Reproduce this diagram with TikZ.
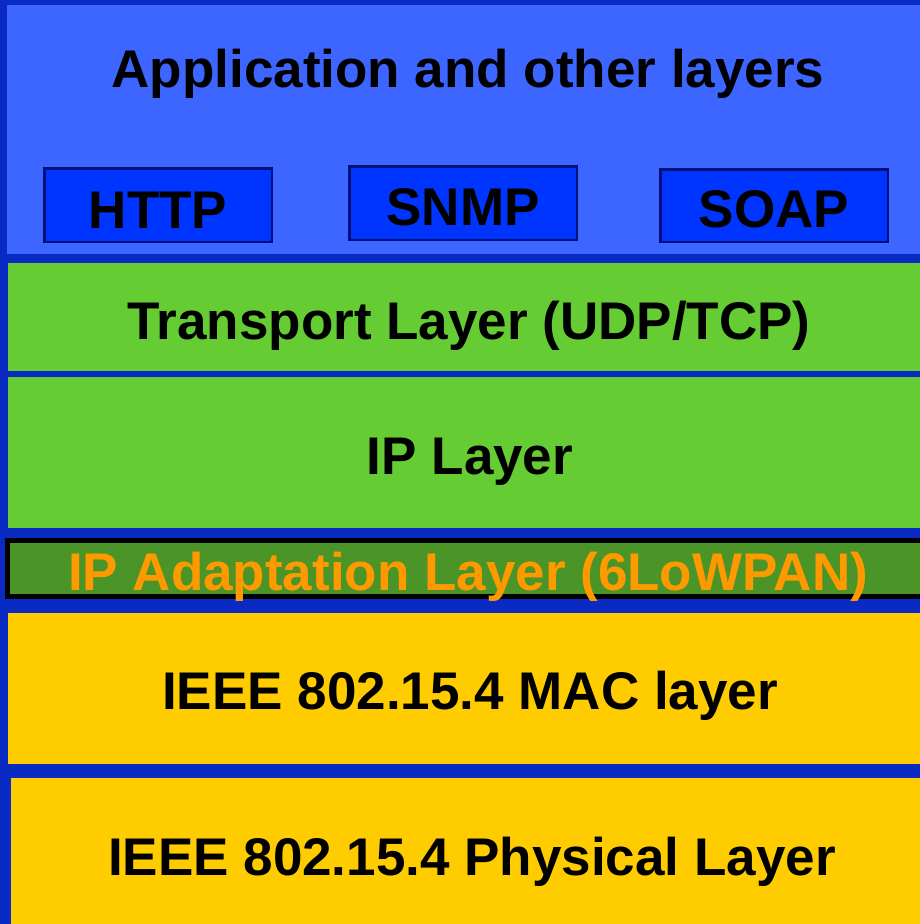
\documentclass[tikz,border=0pt]{standalone}
\usepackage{fontspec}
\setmainfont{Liberation Sans}
\definecolor{bgblue}{HTML}{0A2AC4}
\definecolor{appblue}{HTML}{3C66FF}
\definecolor{protoblue}{HTML}{0035FF}
\definecolor{navy}{HTML}{00107A}
\definecolor{layergreen}{HTML}{66CC33}
\definecolor{darkgreen}{HTML}{4A9428}
\definecolor{layeryellow}{HTML}{FFCC00}
\definecolor{adaptorange}{HTML}{FF9900}
\tikzset{
  layerbox/.style={draw=none, inner sep=0pt, outer sep=0pt, anchor=north west},
  protobox/.style={draw=navy, line width=2.5pt, fill=protoblue, inner sep=0pt, anchor=north west},
  ltext/.style={font=\fontsize{53}{60}\selectfont\bfseries, inner sep=0pt, anchor=base},
}
\begin{document}
\begin{tikzpicture}[x=1pt,y=-1pt]
\useasboundingbox (0,0) rectangle (920,924);
\fill[bgblue] (0,0) rectangle (920,924);
% layers
\node[layerbox, fill=appblue, minimum width=913pt, minimum height=249pt] (app) at (7,5) {};
\node[layerbox, fill=layergreen, minimum width=912pt, minimum height=108pt] (transport) at (8,263) {};
\node[layerbox, fill=layergreen, minimum width=912pt, minimum height=151pt] (ip) at (8,377) {};
\node[draw=black, line width=5pt, fill=darkgreen, inner sep=0pt, anchor=north west, minimum width=920pt, minimum height=56pt] (adapt) at (5,538) {};
\node[layerbox, fill=layeryellow, minimum width=912pt, minimum height=151pt] (mac) at (8,613) {};
\node[layerbox, fill=layeryellow, minimum width=909pt, minimum height=150pt] (phy) at (11,778) {};
% protocol boxes
\node[protobox, minimum width=227.5pt, minimum height=73.5pt] (http) at (43,167) {};
\node[protobox, minimum width=227.5pt, minimum height=73.5pt] (snmp) at (348,165) {};
\node[protobox, minimum width=227.5pt, minimum height=72.5pt] (soap) at (659,168) {};
% texts
\node[ltext] (tapp) at (468,87) {Application and other layers};
\node[ltext] (thttp) at (158,228) {HTTP};
\node[ltext] (tsnmp) at (463,225) {SNMP};
\node[ltext] (tsoap) at (774,227) {SOAP};
\node[ltext] (ttransport) at (469,339) {Transport Layer (UDP/TCP)};
\node[ltext] (tip) at (470,474) {IP Layer};
\node[ltext, text=adaptorange] (tadapt) at (468,590) {IP Adaptation Layer (6LoWPAN)};
\node[ltext] (tmac) at (470,709) {IEEE 802.15.4 MAC layer};
\node[ltext] (tphy) at (472,875) {IEEE 802.15.4 Physical Layer};
\end{tikzpicture}
\end{document}
